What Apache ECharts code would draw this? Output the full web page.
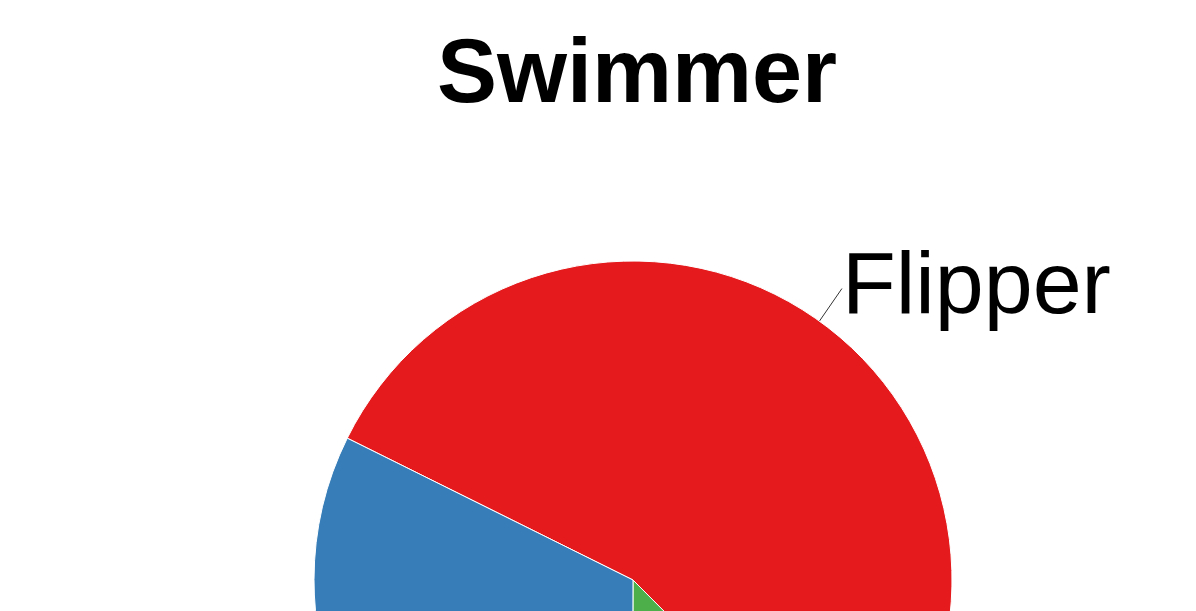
<!DOCTYPE html>
<html>
<head>
<meta charset="utf-8">
<script src="https://cdn.jsdelivr.net/npm/echarts@6/dist/echarts.min.js"></script>
<style>
  html, body { margin: 0; padding: 0; background: #fff; }
  #chart { width: 1196px; height: 611px; }
</style>
</head>
<body>
<div id="chart"></div>
<script>
  // slices in drawing order (clockwise)
  var names = ['Flipper', 'Glide', 'Kick'];
  var values = [55.2, 12.5, 32.3];
  var colors = ['#e41a1c', '#4daf4a', '#377eb8'];
  var labelled = ['Flipper'];

  var chart = echarts.init(document.getElementById('chart'));

  var data = names.map(function (n, i) {
    return {
      name: n,
      value: values[i],
      itemStyle: { color: colors[i] },
      label: { show: labelled.indexOf(n) >= 0 },
      labelLine: { show: labelled.indexOf(n) >= 0 }
    };
  });

  var option = {
    animation: false,
    title: {
      text: 'Swimmer',
      left: 632,
      textAlign: 'center',
      top: 27,
      textStyle: {
        fontFamily: 'Liberation Sans',
        fontWeight: 'bold',
        fontSize: 90,
        color: '#000'
      }
    },
    series: [{
      type: 'pie',
      center: [633, 580],
      radius: [0, 319],
      startAngle: 153.6,
      clockwise: true,
      avoidLabelOverlap: false,
      itemStyle: {
        borderColor: '#fff',
        borderWidth: 1
      },
      label: {
        position: 'outside',
        fontFamily: 'Liberation Sans',
        fontSize: 88,
        color: '#000',
        distanceToLabelLine: 12
      },
      labelLine: {
        length: 18,
        length2: 0,
        lineStyle: { color: '#333', width: 1 }
      },
      // lift the label so its baseline sits near the line end
      labelLayout: function (params) {
        var r = params.labelRect;
        return { y: r.y + r.height / 2 - 18 };
      },
      emphasis: { disabled: true },
      data: data
    }]
  };

  chart.setOption(option);
</script>
</body>
</html>
